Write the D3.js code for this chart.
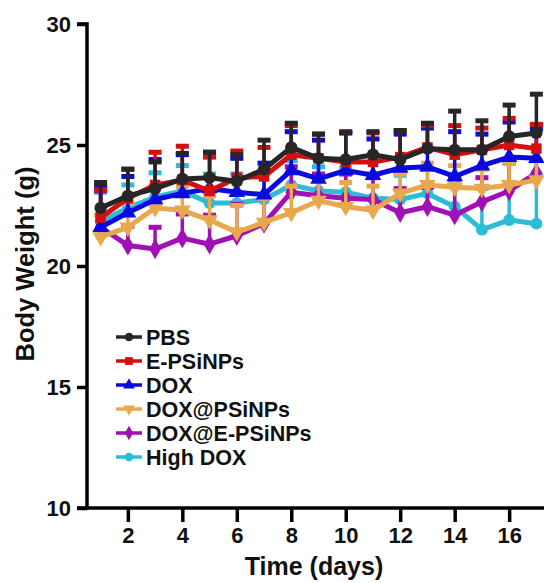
<!DOCTYPE html>
<html><head><meta charset="utf-8">
<script src="https://cdn.jsdelivr.net/npm/d3@7/dist/d3.min.js"></script>
<style>body{margin:0;background:#fff}svg{display:block}</style>
</head><body>
<svg id="c" width="544" height="583"></svg>
<script>
const days = [1,2,3,4,5,6,7,8,9,10,11,12,13,14,15,16,17];
const xTicks = [2,4,6,8,10,12,14,16];
const yTicks = [10,15,20,25,30];
const seriesNames = ["PBS","E-PSiNPs","DOX","DOX@PSiNPs","DOX@E-PSiNPs","High DOX"];
const pbs      = [22.4,22.9,23.2,23.6,23.65,23.5,24.0,24.9,24.45,24.4,24.6,24.4,24.85,24.8,24.8,25.35,25.5];
const ePSiNPs  = [22.0,22.8,23.35,23.55,23.1,23.65,23.7,24.6,24.45,24.3,24.3,24.5,24.9,24.6,24.8,25.0,24.85];
const dox      = [21.6,22.2,22.75,23.0,23.2,23.05,22.95,23.95,23.6,23.95,23.75,24.05,24.1,23.7,24.15,24.5,24.45];
const doxPSi   = [21.2,21.6,22.4,22.3,21.9,21.4,21.8,22.2,22.7,22.45,22.3,23.0,23.35,23.25,23.2,23.35,23.55];
const doxEPSi  = [21.6,20.85,20.7,21.15,20.9,21.25,21.75,23.05,22.9,22.8,22.75,22.2,22.45,22.1,22.65,23.1,23.85];
const highDox  = [21.85,22.4,22.85,23.1,22.6,22.6,22.75,23.35,23.1,23.05,22.8,22.75,23.0,22.45,21.5,21.9,21.75];
const pbsErr     = [1.05,1.1,1.1,1.05,1.05,1.1,1.2,1.0,1.0,1.1,0.95,1.2,1.05,1.6,1.2,1.3,1.6];
const ePSiNPsErr = [1.15,1.2,1.35,1.4,1.4,1.1,1.2,1.2,1.0,1.2,1.2,1.1,0.9,1.2,0.9,1.1,1.0];
const doxErr     = [1.7,1.5,1.65,1.6,1.5,1.4,1.3,1.6,1.6,1.6,1.5,1.4,1.6,1.85,1.3,1.45,1.2];
const doxPSiErr  = [0.9,1.0,0.9,1.0,1.0,1.1,1.0,1.1,0.9,1.0,1.0,0.8,0.9,0.9,0.8,0.9,0.8];
const doxEPSiErr = [1.5,0.8,0.9,1.0,1.2,1.3,1.1,1.05,0.9,1.0,0.9,1.0,0.8,1.5,1.0,1.2,2.0];
const highDoxErr = [1.2,0.95,1.0,1.05,1.2,1.2,1.1,1.0,1.0,1.0,1.0,1.0,1.0,1.1,1.7,2.35,2.0];

const seriesValues = [pbs,ePSiNPs,dox,doxPSi,doxEPSi,highDox];
const seriesErrs = [pbsErr,ePSiNPsErr,doxErr,doxPSiErr,doxEPSiErr,highDoxErr];
const colors = ["#262626","#d40f0f","#0a0ae0","#eaa84e","#a010b4","#2cbcd6"];
const symbols = [d3.symbolCircle,d3.symbolSquare,d3.symbolTriangle,d3.symbolTriangle,d3.symbolDiamond,d3.symbolCircle];
const rotations = [0,0,0,180,0,0];
const symSizes = [120,110,120,120,120,110];

const svg = d3.select("#c");
const x = d3.scaleLinear().domain([0.5,17.5]).range([87,550]);
const y = d3.scaleLinear().domain([10,30]).range([508,24]);

const font = "'Liberation Sans', Arial, sans-serif";
const plot = svg.append("g");

const line = d3.line().x((d,i)=>x(days[i])).y(d=>y(d));

for (let s = seriesNames.length-1; s >= 0; s--) {
  const g = plot.append("g");
  const vals = seriesValues[s], errs = seriesErrs[s], col = colors[s];
  days.forEach((d,i)=>{
    g.append("line").attr("x1",x(d)).attr("x2",x(d))
      .attr("y1",y(vals[i])).attr("y2",y(vals[i]+errs[i]))
      .attr("stroke",col).attr("stroke-width",3.5);
    g.append("line").attr("x1",x(d)-6.5).attr("x2",x(d)+6.5)
      .attr("y1",y(vals[i]+errs[i])).attr("y2",y(vals[i]+errs[i]))
      .attr("stroke",col).attr("stroke-width",5);
  });
  g.append("path").datum(vals).attr("d",line)
    .attr("fill","none").attr("stroke",col).attr("stroke-width",5).attr("stroke-linejoin","round");
  g.selectAll("path.m").data(vals).enter().append("path")
    .attr("d",d3.symbol().type(symbols[s]).size(symSizes[s]))
    .attr("transform",(d,i)=>`translate(${x(days[i])},${y(d)}) rotate(${rotations[s]})`)
    .attr("fill",col);
}

const yAxis = svg.append("g").attr("transform","translate(87,0)")
  .call(d3.axisLeft(y).tickValues(yTicks).tickSize(10).tickPadding(6).tickFormat(d3.format("d")));
const xAxis = svg.append("g").attr("transform","translate(0,508)")
  .call(d3.axisBottom(x).tickValues(xTicks).tickSize(14).tickPadding(5).tickFormat(d3.format("d")));
[yAxis,xAxis].forEach(a=>{
  a.select(".domain").attr("stroke","#000").attr("stroke-width",3.5);
  a.selectAll(".tick line").attr("stroke","#000").attr("stroke-width",3.5);
  a.selectAll(".tick text").attr("fill","#111").attr("font-family",font).attr("font-weight","bold").attr("font-size",22);
});
yAxis.select(".domain").attr("d","M-10,24H0V509.7");
xAxis.select(".domain").attr("d","M77,0H550");

svg.append("text").attr("x",314).attr("y",575).attr("text-anchor","middle")
  .attr("font-family",font).attr("font-weight","bold").attr("font-size",25).attr("fill","#111")
  .text("Time (days)");
svg.append("text").attr("transform","translate(34,264) rotate(-90)").attr("text-anchor","middle")
  .attr("font-family",font).attr("font-weight","bold").attr("font-size",25.5).attr("fill","#111")
  .text("Body Weight (g)");

const leg = svg.append("g");
seriesNames.forEach((n,i)=>{
  const cy = 337 + i*24;
  leg.append("line").attr("x1",116).attr("x2",142).attr("y1",cy).attr("y2",cy)
    .attr("stroke",colors[i]).attr("stroke-width",3.5);
  leg.append("path").attr("d",d3.symbol().type(symbols[i]).size(60))
    .attr("transform",`translate(129,${cy}) rotate(${rotations[i]})`).attr("fill",colors[i]);
  leg.append("text").attr("x",146).attr("y",cy+7.5)
    .attr("font-family",font).attr("font-weight","bold").attr("font-size",21.5).attr("fill","#111")
    .text(n);
});
</script>
</body></html>
